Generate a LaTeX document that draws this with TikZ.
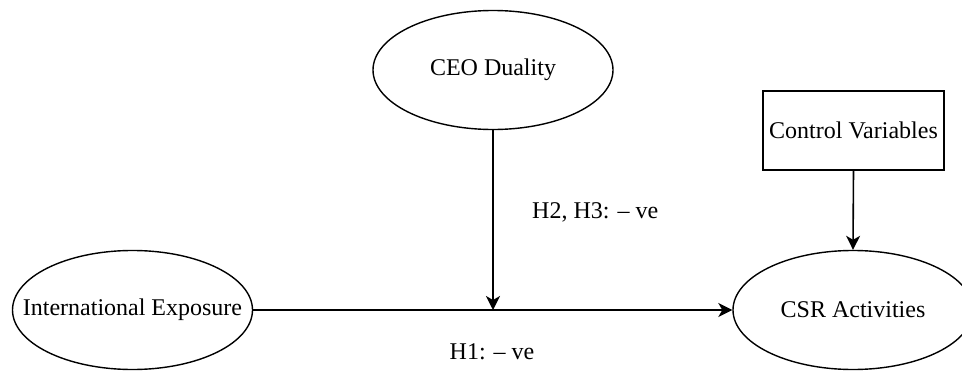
\documentclass[tikz,border=0pt]{standalone}
\usepackage{fontspec}
\setmainfont{Liberation Serif}
\usetikzlibrary{arrows.meta,shapes.geometric}
\begin{document}
\begin{tikzpicture}[x=1pt,y=-1pt,
  every node/.style={font=\fontsize{24}{28}\selectfont},
  construct/.style={draw, line width=1.4pt, ellipse, inner sep=0pt,
    minimum width=240pt, minimum height=119pt},
  ctrlbox/.style={draw, line width=1.6pt, rectangle, inner sep=0pt,
    minimum width=181pt, minimum height=79pt},
  link/.style={line width=1.6pt, -{Stealth[length=14pt,width=14pt,inset=4pt]}},
  lbl/.style={inner sep=0pt}
]
\useasboundingbox (0,0) rectangle (962,372);

% constructs
\node[construct] (ceo) at (493,70) {\makebox[0pt]{CEO Duality}};
\node[construct] (ie)  at (132.5,310) {\makebox[0pt]{International Exposure}};
\node[construct] (csr) at (853,310) {\makebox[0pt]{CSR Activities}};
\node[ctrlbox]   (ctrl) at (853.5,130.5) {Control Variables};

% moderating path lands on the main path
\coordinate (mod) at (ceo.south |- ie.east);

% connectors
\draw[link] (ie.east) -- (csr.west);
\draw[link] (ceo.south) -- (mod);
\draw[link] (ctrl.south) -- (csr.north);

% hypothesis labels
\node[lbl, anchor=west] (h23) at (532,212) {H2, H3: – ve};
\node[lbl] (h1) at (492,352) {H1: – ve};
\end{tikzpicture}
\end{document}
